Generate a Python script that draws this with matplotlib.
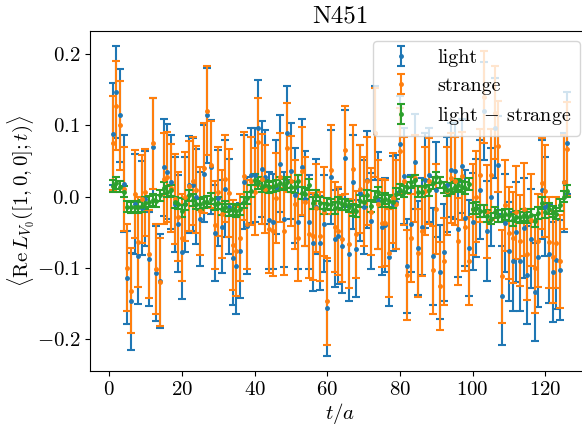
import matplotlib
matplotlib.use("Agg")
import matplotlib.pyplot as plt
import numpy as np

plt.rcParams['font.family'] = 'serif'
plt.rcParams['font.serif'] = ['cmr10']
plt.rcParams['mathtext.fontset'] = 'cm'
plt.rcParams['axes.formatter.use_mathtext'] = True
plt.rcParams['font.size'] = 15
plt.rcParams['axes.unicode_minus'] = True

t = list(range(1, 127))

light = [
    0.088, 0.147, 0.114, 0.018, -0.114, -0.147, -0.010, -0.083, -0.016, -0.003,
    -0.088, 0.070, -0.108, -0.118, 0.041, 0.035, 0.021, -0.011, -0.038, -0.078,
    -0.011, 0.017, 0.017, 0.000, -0.031, 0.032, 0.114, 0.042, -0.051, -0.002,
    -0.042, 0.011, -0.014, -0.086, -0.097, -0.076, 0.021, -0.041, 0.030, 0.031,
    0.096, 0.039, 0.027, -0.033, -0.035, 0.014, 0.046, -0.032, 0.089, 0.036,
    0.002, -0.036, 0.041, -0.003, -0.035, -0.065, -0.014, -0.065, -0.038, -0.157,
    0.027, -0.059, -0.056, -0.070, 0.054, -0.080, 0.020, -0.073, 0.005, -0.014,
    0.024, -0.034, 0.090, -0.005, -0.043, -0.040, -0.085, -0.010, -0.007, 0.074,
    0.029, -0.097, -0.038, 0.049, -0.072, -0.042, 0.023, 0.031, -0.084, 0.010,
    -0.106, -0.078, 0.017, 0.037, 0.036, -0.046, 0.043, -0.030, -0.072, -0.035,
    -0.016, 0.010, 0.120, -0.048, 0.000, 0.096, 0.044, -0.139, -0.037, -0.077,
    -0.091, -0.050, -0.091, -0.044, -0.110, -0.059, -0.134, -0.085, 0.010, -0.014,
    -0.081, -0.106, -0.089, -0.103, 0.020, 0.075,
]

strange = [
    0.075, 0.128, 0.100, 0.011, -0.100, -0.132, 0.004, -0.064, -0.003, 0.006,
    -0.081, 0.075, -0.102, -0.120, 0.025, 0.028, 0.012, -0.003, -0.028, -0.058,
    0.000, 0.015, 0.022, 0.010, -0.020, 0.040, 0.121, 0.045, -0.040, 0.007,
    -0.024, 0.025, 0.005, -0.068, -0.077, -0.058, 0.029, -0.039, 0.022, 0.007,
    0.077, 0.025, 0.011, -0.046, -0.049, -0.002, 0.027, -0.049, 0.069, 0.022,
    -0.011, -0.058, 0.036, -0.007, -0.052, -0.056, -0.016, -0.056, -0.021, -0.147,
    0.038, -0.043, -0.048, -0.059, 0.065, -0.066, 0.039, -0.053, 0.011, -0.007,
    0.022, -0.021, 0.090, -0.011, -0.037, -0.037, -0.079, -0.002, -0.011, 0.064,
    0.022, -0.110, -0.058, 0.026, -0.079, -0.049, 0.008, 0.022, -0.103, -0.017,
    -0.126, -0.091, 0.008, 0.026, 0.022, -0.063, 0.029, -0.042, -0.090, -0.018,
    0.000, 0.030, 0.140, -0.021, 0.031, 0.118, 0.071, -0.112, -0.012, -0.051,
    -0.058, -0.022, -0.062, -0.018, -0.081, -0.033, -0.100, -0.062, 0.019, 0.008,
    -0.064, -0.085, -0.065, -0.091, 0.020, 0.067,
]

diff = [
    0.015, 0.019, 0.014, 0.007, -0.014, -0.015, -0.014, -0.015, -0.013, -0.009,
    -0.007, -0.005, -0.006, 0.002, 0.012, 0.007, 0.009, -0.008, -0.010, -0.020,
    -0.011, 0.002, -0.005, -0.010, -0.011, -0.008, -0.007, -0.003, -0.011, -0.009,
    -0.018, -0.014, -0.019, -0.018, -0.020, -0.018, -0.008, -0.002, 0.008, 0.024,
    0.019, 0.014, 0.016, 0.013, 0.014, 0.016, 0.019, 0.017, 0.020, 0.014,
    0.013, 0.022, 0.005, 0.004, 0.017, -0.009, 0.002, -0.009, -0.017, -0.010,
    -0.011, -0.016, -0.008, -0.011, -0.011, -0.014, -0.019, -0.020, -0.006, -0.007,
    0.002, -0.013, 0.000, 0.006, -0.006, -0.003, -0.006, -0.008, 0.004, 0.010,
    0.007, 0.013, 0.020, 0.023, 0.007, 0.007, 0.015, 0.009, 0.019, 0.027,
    0.020, 0.013, 0.009, 0.011, 0.014, 0.017, 0.014, 0.012, 0.018, -0.017,
    -0.016, -0.020, -0.020, -0.027, -0.031, -0.022, -0.027, -0.027, -0.025, -0.026,
    -0.033, -0.028, -0.029, -0.026, -0.029, -0.026, -0.034, -0.023, -0.009, -0.022,
    -0.017, -0.021, -0.024, -0.012, 0.000, 0.008,
]

light_err = [
    0.071, 0.065, 0.066, 0.068, 0.065, 0.068, 0.070, 0.068, 0.066, 0.067,
    0.066, 0.068, 0.067, 0.066, 0.068, 0.067, 0.066, 0.067, 0.068, 0.066,
    0.067, 0.068, 0.066, 0.067, 0.066, 0.068, 0.067, 0.066, 0.068, 0.067,
    0.066, 0.068, 0.067, 0.066, 0.068, 0.067, 0.066, 0.068, 0.067, 0.066,
    0.068, 0.067, 0.066, 0.068, 0.067, 0.066, 0.068, 0.067, 0.066, 0.068,
    0.067, 0.066, 0.068, 0.067, 0.066, 0.068, 0.067, 0.066, 0.068, 0.067,
    0.066, 0.068, 0.067, 0.066, 0.068, 0.067, 0.066, 0.068, 0.067, 0.066,
    0.068, 0.067, 0.066, 0.068, 0.067, 0.066, 0.068, 0.067, 0.066, 0.068,
    0.067, 0.066, 0.068, 0.067, 0.066, 0.068, 0.067, 0.066, 0.068, 0.067,
    0.066, 0.068, 0.067, 0.066, 0.068, 0.067, 0.066, 0.068, 0.067, 0.068,
    0.069, 0.070, 0.069, 0.070, 0.069, 0.070, 0.069, 0.070, 0.069, 0.070,
    0.069, 0.070, 0.069, 0.070, 0.069, 0.070, 0.069, 0.070, 0.069, 0.070,
    0.069, 0.070, 0.069, 0.070, 0.070, 0.072,
]

strange_err = [
    0.066, 0.062, 0.062, 0.059, 0.061, 0.060, 0.062, 0.063, 0.062, 0.061,
    0.062, 0.064, 0.063, 0.062, 0.064, 0.063, 0.062, 0.063, 0.062, 0.061,
    0.062, 0.063, 0.062, 0.061, 0.062, 0.063, 0.062, 0.061, 0.062, 0.063,
    0.062, 0.061, 0.062, 0.063, 0.062, 0.061, 0.062, 0.063, 0.062, 0.061,
    0.062, 0.063, 0.062, 0.061, 0.062, 0.063, 0.062, 0.061, 0.062, 0.063,
    0.062, 0.061, 0.062, 0.063, 0.062, 0.061, 0.062, 0.063, 0.062, 0.061,
    0.062, 0.063, 0.062, 0.061, 0.062, 0.063, 0.062, 0.061, 0.062, 0.063,
    0.062, 0.061, 0.062, 0.063, 0.062, 0.061, 0.062, 0.063, 0.062, 0.061,
    0.062, 0.063, 0.062, 0.061, 0.062, 0.063, 0.062, 0.061, 0.062, 0.063,
    0.062, 0.061, 0.062, 0.063, 0.062, 0.061, 0.062, 0.063, 0.062, 0.064,
    0.064, 0.065, 0.064, 0.065, 0.064, 0.065, 0.064, 0.065, 0.064, 0.065,
    0.064, 0.065, 0.064, 0.065, 0.064, 0.065, 0.064, 0.065, 0.064, 0.065,
    0.064, 0.065, 0.064, 0.065, 0.066, 0.066,
]

diff_err = [
    0.008, 0.008, 0.008, 0.008, 0.008, 0.008, 0.008, 0.008, 0.008, 0.008,
    0.008, 0.008, 0.008, 0.008, 0.008, 0.008, 0.008, 0.008, 0.008, 0.008,
    0.008, 0.008, 0.008, 0.008, 0.008, 0.008, 0.008, 0.008, 0.008, 0.008,
    0.008, 0.008, 0.008, 0.008, 0.008, 0.008, 0.008, 0.008, 0.008, 0.008,
    0.008, 0.008, 0.008, 0.008, 0.008, 0.008, 0.008, 0.008, 0.008, 0.008,
    0.008, 0.008, 0.008, 0.008, 0.008, 0.008, 0.008, 0.008, 0.008, 0.008,
    0.008, 0.008, 0.008, 0.008, 0.008, 0.008, 0.008, 0.008, 0.008, 0.008,
    0.008, 0.008, 0.008, 0.008, 0.008, 0.008, 0.008, 0.008, 0.008, 0.008,
    0.008, 0.008, 0.008, 0.008, 0.008, 0.008, 0.008, 0.008, 0.008, 0.008,
    0.008, 0.008, 0.008, 0.008, 0.008, 0.008, 0.008, 0.008, 0.008, 0.008,
    0.008, 0.008, 0.008, 0.008, 0.008, 0.008, 0.008, 0.008, 0.008, 0.008,
    0.008, 0.008, 0.008, 0.008, 0.008, 0.008, 0.008, 0.008, 0.008, 0.008,
    0.008, 0.008, 0.008, 0.008, 0.008, 0.008,
]

labels = ["light", "strange", r"light $-$ strange"]
colors = ["C0", "C1", "C2"]

fig = plt.figure(figsize=(5.82, 4.26), dpi=100)
ax = fig.add_axes([90 / 582, 55 / 426, 500 / 582, 340 / 426])

for y, e, lab, c in zip([light, strange, diff], [light_err, strange_err, diff_err], labels, colors):
    ax.errorbar(t, y, yerr=e, fmt='o', color=c, markersize=2.5, capsize=3,
                elinewidth=1.5, capthick=1.5, label=lab)

ax.set_xlim(-5.25, 132.25)
ax.set_ylim(-0.245, 0.2327)
ax.set_xticks([0, 20, 40, 60, 80, 100, 120])
ax.set_yticks([-0.2, -0.1, 0.0, 0.1, 0.2])
ax.set_yticklabels([r"$-0.2$", r"$-0.1$", r"$0.0$", r"$0.1$", r"$0.2$"])
ax.set_xticklabels([r"$0$", r"$20$", r"$40$", r"$60$", r"$80$", r"$100$", r"$120$"])
ax.set_xlabel(r"$t/a$", labelpad=1.5)
ax.set_ylabel(r"$\langle \mathrm{Re}\, L_{V_0}([1,0,0];t)\rangle$", labelpad=0)
ax.set_title("N451")
ax.legend(loc="upper right", fontsize=14.5)

fig.savefig("out.png", dpi=100)
